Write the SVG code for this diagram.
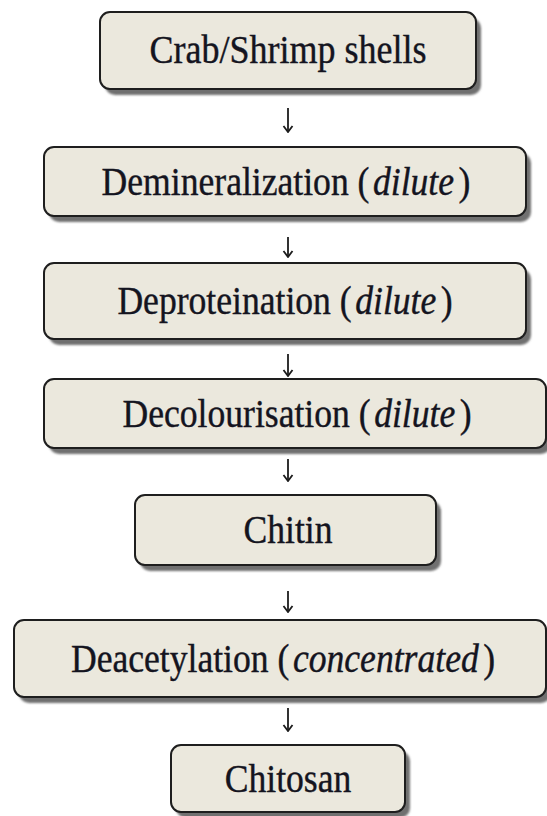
<svg xmlns="http://www.w3.org/2000/svg" width="547" height="816" viewBox="0 0 547 816">
<defs>
<filter id="blur" x="-10%" y="-10%" width="120%" height="120%"><feGaussianBlur stdDeviation="1"/></filter>
<marker id="ah" viewBox="0 0 12 10" refX="6" refY="9" markerWidth="12" markerHeight="10" markerUnits="userSpaceOnUse" orient="0">
<path d="M1.5,3 L6,9 L10.5,3" fill="none" stroke="#1c1c1c" stroke-width="1.8"/>
</marker>
</defs>
<style>
.shadow{fill:#6f6f6f;filter:url(#blur)}
.box{fill:#ebe8dd;stroke:#1e1e1e;stroke-width:2}
.lbl{font-family:"Liberation Serif","DejaVu Serif",serif;font-size:40px;fill:#141420;stroke:#141420;stroke-width:0.4;text-anchor:middle}
.it{font-style:italic}
.arr{stroke:#1c1c1c;stroke-width:1.8;fill:none}
</style>
<rect width="547" height="816" fill="#ffffff"/>
<g id="connectors">
<line class="arr" x1="288" y1="108" x2="288" y2="132" marker-end="url(#ah)"/>
<line class="arr" x1="288" y1="237" x2="288" y2="257" marker-end="url(#ah)"/>
<line class="arr" x1="288" y1="354" x2="288" y2="376" marker-end="url(#ah)"/>
<line class="arr" x1="288" y1="459" x2="288" y2="481" marker-end="url(#ah)"/>
<line class="arr" x1="288" y1="591" x2="288" y2="612" marker-end="url(#ah)"/>
<line class="arr" x1="288" y1="708" x2="288" y2="731" marker-end="url(#ah)"/>
</g>
<g id="n1">
<rect class="shadow" x="105" y="18" width="376" height="77" rx="10"/>
<rect class="box" x="100" y="12" width="376" height="77" rx="10"/>
<text class="lbl" transform="translate(288,63) scale(0.9,1)">Crab/Shrimp shells</text>
</g>
<g id="n2">
<rect class="shadow" x="49" y="153" width="482" height="69" rx="10"/>
<rect class="box" x="44" y="147" width="482" height="69" rx="10"/>
<text class="lbl" transform="translate(286,195) scale(0.89,1)">Demineralization (<tspan class="it" dx="4">dilute</tspan><tspan dx="5">)</tspan></text>
</g>
<g id="n3">
<rect class="shadow" x="49" y="269" width="482" height="76" rx="10"/>
<rect class="box" x="44" y="263" width="482" height="76" rx="10"/>
<text class="lbl" transform="translate(285,314) scale(0.89,1)">Deproteination (<tspan class="it" dx="4">dilute</tspan><tspan dx="5">)</tspan></text>
</g>
<g id="n4">
<rect class="shadow" x="49" y="385" width="502" height="69" rx="10"/>
<rect class="box" x="44" y="379" width="502" height="69" rx="10"/>
<text class="lbl" transform="translate(297,427) scale(0.89,1)">Decolourisation (<tspan class="it" dx="4">dilute</tspan><tspan dx="5">)</tspan></text>
</g>
<g id="n5">
<rect class="shadow" x="140" y="501" width="301" height="70" rx="10"/>
<rect class="box" x="135" y="495" width="301" height="70" rx="10"/>
<text class="lbl" transform="translate(288,543) scale(0.89,1)">Chitin</text>
</g>
<g id="n6">
<rect class="shadow" x="19" y="626" width="532" height="77" rx="10"/>
<rect class="box" x="14" y="620" width="532" height="77" rx="10"/>
<text class="lbl" transform="translate(283,672) scale(0.89,1)">Deacetylation (<tspan class="it" dx="4">concentrated</tspan><tspan dx="5">)</tspan></text>
</g>
<g id="n7">
<rect class="shadow" x="176" y="751" width="234" height="67" rx="10"/>
<rect class="box" x="171" y="745" width="234" height="67" rx="10"/>
<text class="lbl" transform="translate(288,792) scale(0.89,1)">Chitosan</text>
</g>
</svg>
